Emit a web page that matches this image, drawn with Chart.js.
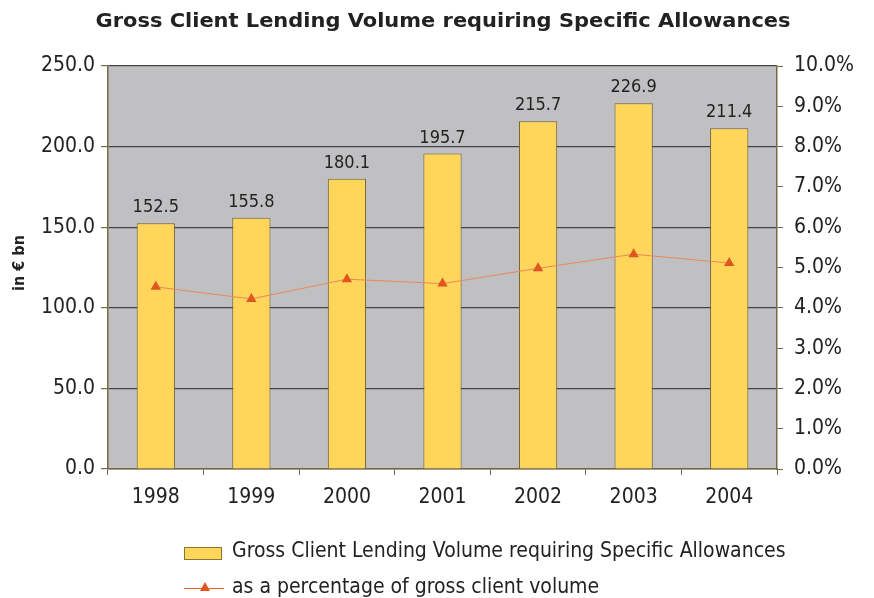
<!DOCTYPE html>
<html>
<head>
<meta charset="utf-8">
<script src="https://cdn.jsdelivr.net/npm/chart.js@4"></script>
<style>
  html, body { margin: 0; padding: 0; background: #fff; }
  #wrap { width: 874px; height: 598px; }
</style>
</head>
<body>
<div id="wrap"><canvas id="chart" width="874" height="598"></canvas></div>
<script>
// Data
const years = ["1998", "1999", "2000", "2001", "2002", "2003", "2004"];
const lendingVolume = [152.5, 155.8, 180.1, 195.7, 215.7, 226.9, 211.4];
const percentOfGross = [4.52, 4.22, 4.71, 4.6, 4.98, 5.33, 5.11];
const leftTicks = [0, 50, 100, 150, 200, 250];
const rightTicks = [0, 1, 2, 3, 4, 5, 6, 7, 8, 9, 10];

const barLabel = 'Gross Client Lending Volume requiring Specific Allowances';
const lineLabel = 'as a percentage of gross client volume';

const FONT = "'DejaVu Sans Condensed', 'DejaVu Sans', sans-serif";
const TEXT = '#222';
const AXIS = '#76694a';

// grey plot background
const plotBg = {
    id: 'plotBg',
    beforeDraw(chart) {
        const a = chart.chartArea, ctx = chart.ctx;
        ctx.save();
        ctx.fillStyle = '#c0c0c2';
        ctx.fillRect(a.left, a.top, a.right - a.left, a.bottom - a.top);
        ctx.restore();
    }
};

// title, axis label, bar values, legend
const extras = {
    id: 'extras',
    afterDraw(chart) {
        const ctx = chart.ctx;
        ctx.save();
        ctx.fillStyle = TEXT;

        // title, stretched to the original's width
        ctx.save();
        ctx.font = "bold 20px 'DejaVu Sans', sans-serif";
        ctx.textAlign = 'center';
        ctx.textBaseline = 'alphabetic';
        const title = "Gross Client Lending Volume requiring Specific Allowances";
        const w = ctx.measureText(title).width;
        ctx.translate(443, 27);
        ctx.scale(695 / w, 1);
        ctx.fillText(title, 0, 0);
        ctx.restore();

        // y title
        ctx.save();
        ctx.translate(20, 263);
        ctx.rotate(-Math.PI / 2);
        ctx.font = "bold 16px " + FONT;
        ctx.textAlign = 'center';
        ctx.textBaseline = 'middle';
        ctx.fillText("in € bn", 0, 0);
        ctx.restore();

        // values above bars
        ctx.font = "18px " + FONT;
        ctx.textAlign = 'center';
        ctx.textBaseline = 'alphabetic';
        const barIdx = chart.data.datasets.findIndex(d => d.type === 'bar');
        chart.getDatasetMeta(barIdx).data.forEach((bar, i) => {
            ctx.fillText(lendingVolume[i].toFixed(1), bar.x, bar.y - 11);
        });

        // legend
        ctx.textAlign = 'left';
        ctx.textBaseline = 'middle';
        ctx.font = "21px " + FONT;
        ctx.fillStyle = '#ffd55a';
        ctx.fillRect(184, 547, 37, 12);
        ctx.strokeStyle = '#8a7430';
        ctx.lineWidth = 1;
        ctx.strokeRect(184.5, 547.5, 37, 12);
        ctx.fillStyle = TEXT;
        ctx.fillText(barLabel, 232, 552);

        ctx.strokeStyle = '#e06028';
        ctx.beginPath();
        ctx.moveTo(184, 588.5);
        ctx.lineTo(224, 588.5);
        ctx.stroke();
        ctx.fillStyle = '#e0561e';
        ctx.beginPath();
        ctx.moveTo(205, 582);
        ctx.lineTo(210, 591);
        ctx.lineTo(200, 591);
        ctx.closePath();
        ctx.fill();
        ctx.fillStyle = TEXT;
        ctx.fillText(lineLabel, 232, 588);
        ctx.restore();
    }
};

new Chart(document.getElementById('chart'), {
    data: {
        labels: years,
        datasets: [
            {
                type: 'bar',
                label: barLabel,
                data: lendingVolume,
                yAxisID: 'yLeft',
                backgroundColor: '#ffd55a',
                borderColor: '#6e6030',
                borderWidth: 1,
                categoryPercentage: 1,
                barPercentage: 0.40,
                order: 1
            },
            {
                type: 'line',
                label: lineLabel,
                data: percentOfGross,
                yAxisID: 'yRight',
                borderColor: '#e8895c',
                borderWidth: 1,
                pointStyle: 'triangle',
                pointRadius: 6,
                pointBackgroundColor: '#e0561e',
                pointBorderColor: '#e0561e',
                pointBorderWidth: 0,
                tension: 0,
                order: 0
            }
        ]
    },
    options: {
        responsive: false,
        animation: false,
        layout: { padding: { top: 66, left: 0, right: 0, bottom: 0 } },
        plugins: {
            legend: { display: false },
            title: { display: false },
            tooltip: { enabled: false }
        },
        scales: {
            x: {
                offset: true,
                grid: { offset: true, drawOnChartArea: false, tickLength: 6, tickColor: AXIS, color: AXIS },
                border: { color: AXIS, width: 1.5 },
                ticks: { color: TEXT, font: { family: FONT, size: 21 }, padding: 10 },
                afterFit(s) { s.height = 129; }
            },
            yLeft: {
                position: 'left',
                min: 0, max: 250,
                afterBuildTicks(s) { s.ticks = leftTicks.map(v => ({ value: v })); },
                grid: { color: '#444', lineWidth: 1.2, tickLength: 7, tickColor: AXIS },
                border: { color: AXIS, width: 1.5 },
                ticks: { color: TEXT, font: { family: FONT, size: 21 }, padding: 6,
                    callback: v => v.toFixed(1) },
                afterFit(s) { s.width = 108; }
            },
            yRight: {
                position: 'right',
                min: 0, max: 10,
                afterBuildTicks(s) { s.ticks = rightTicks.map(v => ({ value: v })); },
                grid: { drawOnChartArea: false, tickLength: 6, tickColor: AXIS },
                border: { color: AXIS, width: 1.5 },
                ticks: { color: TEXT, font: { family: FONT, size: 21 }, padding: 11,
                    callback: v => v.toFixed(1) + '%' },
                afterFit(s) { s.width = 97; }
            }
        }
    },
    plugins: [plotBg, extras]
});
</script>
</body>
</html>
